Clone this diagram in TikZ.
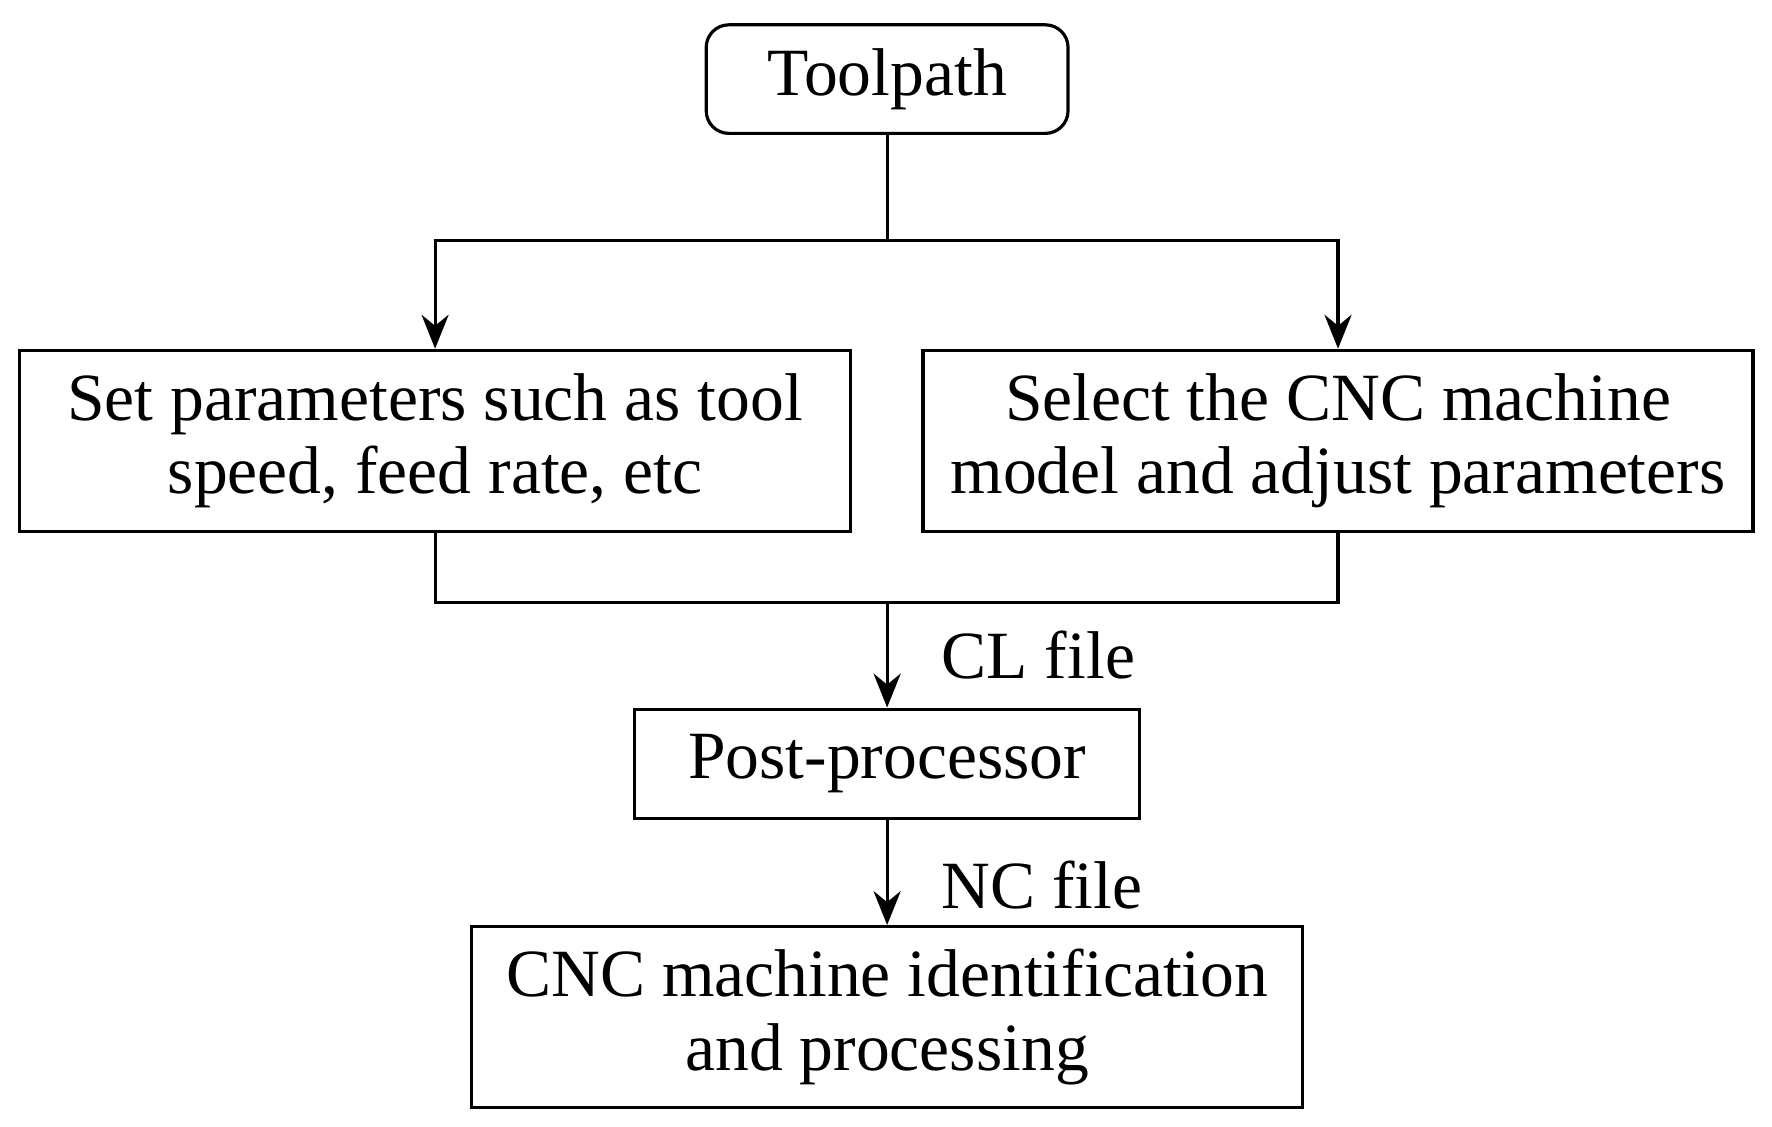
\documentclass[tikz,border=0pt]{standalone}
\usepackage{fontspec}
\setmainfont{Liberation Serif}
\usetikzlibrary{arrows.meta,positioning}

\begin{document}
\begin{tikzpicture}[x=0.01cm, y=-0.01cm,
                    box/.style = {
                      draw, thick, align=center,
                      inner sep=0pt,
                      font=\fontsize{17pt}{18.6pt}\selectfont
                    },
                    flow/.style = {
                      thick, -{Stealth[length=3mm, width=2.4mm]}
                    },
                    lbl/.style = {
                      font=\fontsize{17pt}{18.6pt}\selectfont
                    }]
    \useasboundingbox (0,0) rectangle (1568,997);

    \node(toolpath)[box, rounded corners=2mm, minimum width=3.2cm, minimum height=0.96cm]
        at (785,70) {Toolpath};
    \node(setpar)[box, minimum width=7.35cm, minimum height=1.6cm]
        at (385,390) {Set parameters such as tool\\speed, feed rate, etc};
    \node(select)[box, minimum width=7.34cm, minimum height=1.6cm]
        at (1184,390) {Select the CNC machine\\model and adjust parameters};
    \node(post)[box, minimum width=4.47cm, minimum height=0.97cm]
        at (785,676) {Post-processor};
    \node(cnc)[box, minimum width=7.35cm, minimum height=1.6cm]
        at (785,900) {CNC machine identification\\and processing};

    \coordinate(split) at (785,213);
    \coordinate(join) at (785,533);

    \draw[thick] (toolpath.south) -- (split);
    \draw[flow] (split) -| (setpar.north);
    \draw[flow] (split) -| (select.north);
    \draw[thick] (setpar.south) |- (join) -| (select.south);
    \draw[flow] (join) -- node[lbl, right=10pt]{CL file} (post.north);
    \draw[flow] (post.south) -- node[lbl, right=10pt, yshift=-3pt]{NC file} (cnc.north);
\end{tikzpicture}
\end{document}
